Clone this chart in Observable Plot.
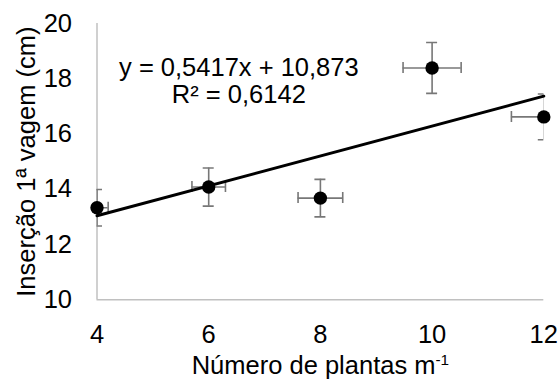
<!DOCTYPE html>
<html>
<head>
<meta charset="utf-8">
<script src="https://cdn.jsdelivr.net/npm/d3@7"></script>
<script src="https://cdn.jsdelivr.net/npm/@observablehq/plot@0.6"></script>
<style>
  html, body { margin: 0; padding: 0; background: #fff; }
  #chart { width: 560px; height: 383px; }
  svg { font-family: "Liberation Sans", Arial, sans-serif; }
</style>
</head>
<body>
<div id="chart"></div>
<script>
// Data
const plants = [4, 6, 8, 10, 12];
const insertion = [13.33, 14.08, 13.68, 18.39, 16.62];
const insertionErr = [0.66, 0.69, 0.68, 0.92, 0.83];
const plantsErr = [0.2, 0.3, 0.4, 0.52, 0.58];

const trendX = [4, 12];
const trendY = [13.04, 17.37];

const equationLines = ["y = 0,5417x + 10,873", "R² = 0,6142"];
const equationX = [6.54, 6.54];
const equationY = [18.09, 17.11];

const xTicks = [4, 6, 8, 10, 12];
const yTicks = [10, 12, 14, 16, 18, 20];
const xTitle = "Número de plantas m-1";
const yTitle = "Inserção 1ª vagem (cm)";

const pts = plants.map((x, i) => ({
  x, y: insertion[i], ey: insertionErr[i], ex: plantsErr[i]
}));
const trend = trendX.map((x, i) => ({x, y: trendY[i]}));
const eq = equationLines.map((t, i) => ({t, x: equationX[i], y: equationY[i]}));

const FS = 25.5;
const errColor = "#777777";
const axisColor = "#c0c0c0";
const cap = 5.5;

const chart = Plot.plot({
  width: 560,
  height: 383,
  marginLeft: 96.5,
  marginRight: 16.7,
  marginTop: 23,
  marginBottom: 83.7,
  style: {fontFamily: "Liberation Sans, Arial, sans-serif", fontSize: FS + "px", color: "#000", background: "#fff"},
  x: {domain: [4, 12], axis: null},
  y: {domain: [10, 20], axis: null},
  marks: [
    // axis lines
    Plot.ruleX([4], {y1: 10, y2: 20, stroke: axisColor, strokeWidth: 1.5}),
    Plot.ruleY([10], {x1: 4, x2: 12, stroke: axisColor, strokeWidth: 1.5}),
    // axes labels
    Plot.axisY(yTicks, {tickSize: 0, tickPadding: 25, fontSize: FS, label: null}),
    Plot.axisX(xTicks, {tickSize: 0, tickPadding: 25, fontSize: FS, label: null}),
    // error bars (clipped to frame)
    Plot.ruleX(pts, {x: "x", y1: d => d.y - d.ey, y2: d => d.y + d.ey, stroke: errColor, strokeWidth: 1.6, clip: true}),
    Plot.ruleY(pts, {y: "y", x1: d => d.x - d.ex, x2: d => d.x + d.ex, stroke: errColor, strokeWidth: 1.6, clip: true}),
    // caps on vertical error bars
    Plot.ruleY(pts, {y: d => d.y + d.ey, x1: "x", x2: "x", insetLeft: -cap, insetRight: -cap, stroke: errColor, strokeWidth: 1.6, clip: true}),
    Plot.ruleY(pts, {y: d => d.y - d.ey, x1: "x", x2: "x", insetLeft: -cap, insetRight: -cap, stroke: errColor, strokeWidth: 1.6, clip: true}),
    // caps on horizontal error bars
    Plot.ruleX(pts, {x: d => d.x + d.ex, y1: "y", y2: "y", insetTop: -cap, insetBottom: -cap, stroke: errColor, strokeWidth: 1.6, clip: true}),
    Plot.ruleX(pts, {x: d => d.x - d.ex, y1: "y", y2: "y", insetTop: -cap, insetBottom: -cap, stroke: errColor, strokeWidth: 1.6, clip: true}),
    // trend line
    Plot.line(trend, {x: "x", y: "y", stroke: "#000", strokeWidth: 3}),
    // points
    Plot.dot(pts, {x: "x", y: "y", r: 6.7, fill: "#000", stroke: "none"}),
    // equation
    Plot.text(eq, {x: "x", y: "y", text: "t", textAnchor: "middle", lineAnchor: "bottom", fontSize: FS, fill: "#000"}),
    // axis titles
    Plot.text([xTitle], {frameAnchor: "bottom", textAnchor: "middle", lineAnchor: "bottom", dy: 73.7, fontSize: FS, fill: "#000"}),
    Plot.text([yTitle], {frameAnchor: "left", textAnchor: "middle", rotate: -90, lineAnchor: "bottom", dx: -62.5, fontSize: FS, fill: "#000"})
  ]
});

// superscript "-1" in the x title
d3.select(chart).selectAll("text").each(function() {
  const t = d3.select(this);
  if (t.text() === xTitle) {
    t.text(null);
    t.append("tspan").text("Número de plantas m");
    t.append("tspan").attr("dy", "-0.55em").attr("font-size", "0.6em").text("-1");
  }
});

document.getElementById("chart").appendChild(chart);
</script>
</body>
</html>
